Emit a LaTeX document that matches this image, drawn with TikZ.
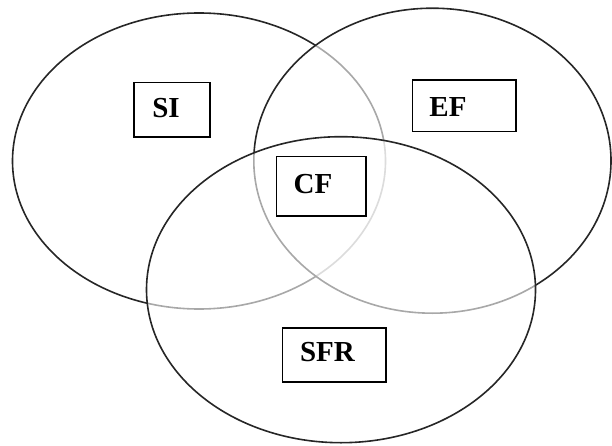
\documentclass[tikz,border=0pt]{standalone}
\usepackage{fontspec}
\setmainfont{Liberation Serif}
\begin{document}
\begin{tikzpicture}[x=1pt,y=1pt,
  ring/.style={draw=black!85, line width=1.6pt},
  veil/.style={fill=white, fill opacity=0.6},
  labbox/.style={draw=black, line width=1.6pt, inner sep=0pt, rectangle},
  labtext/.style={inner sep=0pt, font=\fontsize{29}{31}\selectfont\bfseries}]
\useasboundingbox (0,0) rectangle (612,445);
% ellipses (later ones veil the earlier ones' lines)
\draw[ring] (199,284) ellipse [x radius=186.5, y radius=148];
\draw[ring, veil] (432.4,284.3) ellipse [x radius=178.6, y radius=152.5];
\draw[ring, veil] (341,155.3) ellipse [x radius=194.5, y radius=153];
% boxes
\node[labbox, minimum width=76pt, minimum height=54.6pt] (si) at (172,335) {};
\node[labbox, minimum width=103.3pt, minimum height=51.7pt] (ef) at (464.3,339.2) {};
\node[labbox, minimum width=89.3pt, minimum height=59.3pt] (cf) at (321.3,258.7) {};
\node[labbox, minimum width=103.3pt, minimum height=54pt] (sfr) at (334.3,90.3) {};
% labels
\node[labtext] (sit) at (166,336.5) {SI};
\node[labtext] (eft) at (448,338.3) {EF};
\node[labtext] (cft) at (313,261.3) {CF};
\node[labtext] (sfrt) at (327.5,93.3) {SFR};
\end{tikzpicture}
\end{document}
